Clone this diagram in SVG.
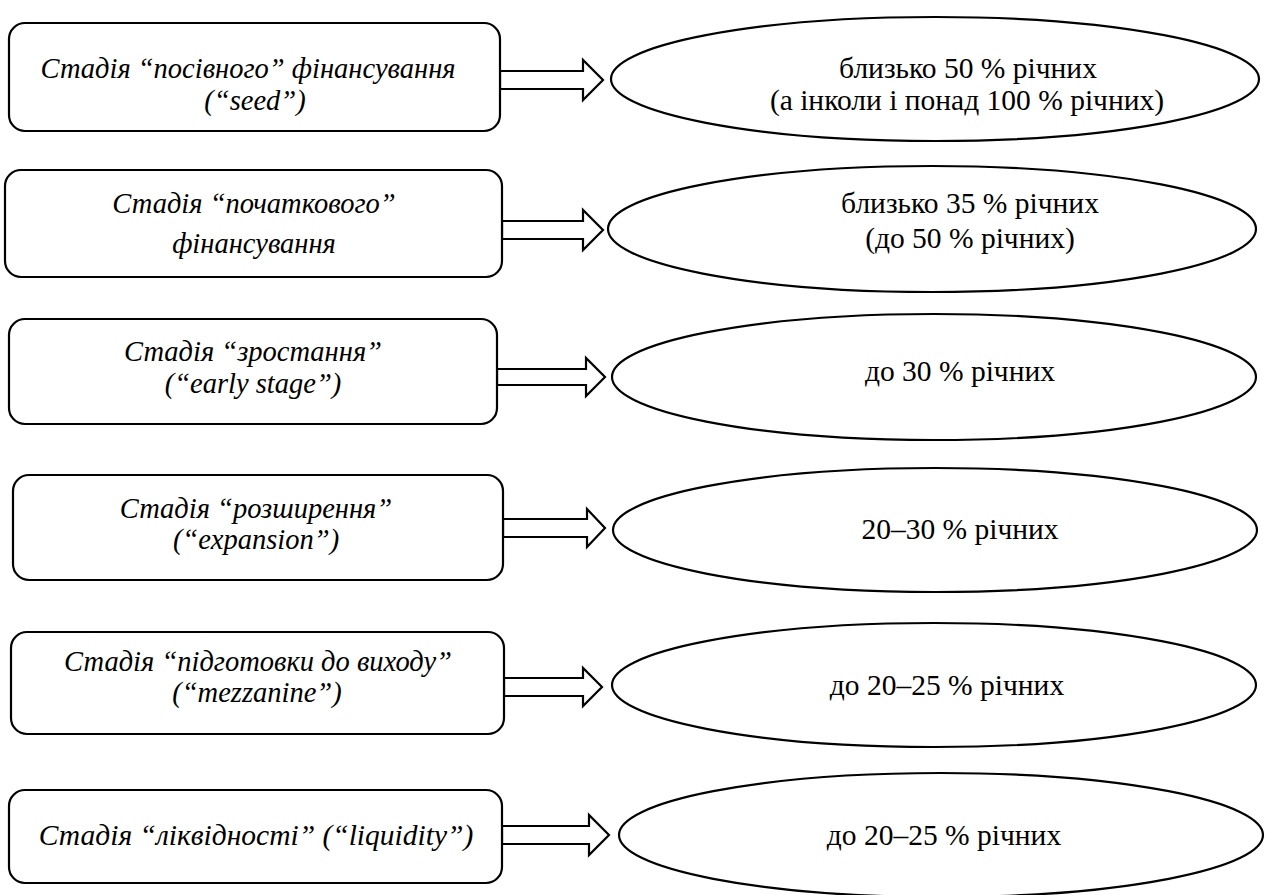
<svg xmlns="http://www.w3.org/2000/svg" width="1266" height="895" viewBox="0 0 1266 895">
<style>
.box{fill:#fff;stroke:#000;stroke-width:2.2}
.ell{fill:#fff;stroke:#000;stroke-width:2.2}
.arr{fill:#fff;stroke:#000;stroke-width:2.2;stroke-linejoin:miter}
text{font-family:'Liberation Serif','Times New Roman',serif;font-size:29.5px;text-anchor:middle;fill:#000}
.bt{font-style:italic;font-size:28.5px}
.bt6{font-size:29.5px}
</style>
<rect width="1266" height="895" fill="#fff"/>
<g id="connectors">
<polygon class="arr" points="500,71 583,71 583,60 603,80 583,100 583,89 500,89"/>
<polygon class="arr" points="502,221 583,221 583,210 603,230 583,250 583,239 502,239"/>
<polygon class="arr" points="497,369 586,369 586,358 605,377 586,396 586,385 497,385"/>
<polygon class="arr" points="503,519 587,519 587,509 605,528 587,547 587,537 503,537"/>
<polygon class="arr" points="504,678 583,678 583,668 602,687 583,706 583,696 504,696"/>
<polygon class="arr" points="502,826 589,826 589,815 609,835 589,855 589,844 502,844"/>
</g>
<g id="stage1">
<rect class="box" x="9" y="23" width="491" height="108" rx="16"/>
<text class="bt" x="248" y="78">Стадія “посівного” фінансування</text>
<text class="bt" x="255" y="110">(“seed”)</text>
</g>
<g id="rate1">
<ellipse class="ell" cx="935" cy="79" rx="324" ry="62"/>
<text x="968" y="78">близько 50 % річних</text>
<text x="967" y="110">(а інколи і понад 100 % річних)</text>
</g>
<g id="stage2">
<rect class="box" x="5" y="170" width="497" height="107" rx="16"/>
<text class="bt" x="254" y="213">Стадія “початкового”</text>
<text class="bt" x="254" y="253">фінансування</text>
</g>
<g id="rate2">
<ellipse class="ell" cx="932" cy="229" rx="324" ry="63"/>
<text x="970" y="213">близько 35 % річних</text>
<text x="970" y="248">(до 50 % річних)</text>
</g>
<g id="stage3">
<rect class="box" x="9" y="319" width="488" height="105" rx="16"/>
<text class="bt" x="253" y="361">Стадія “зростання”</text>
<text class="bt" x="253" y="393">(“early stage”)</text>
</g>
<g id="rate3">
<ellipse class="ell" cx="934" cy="377" rx="322" ry="63"/>
<text x="960" y="381">до 30 % річних</text>
</g>
<g id="stage4">
<rect class="box" x="13" y="475" width="490" height="105" rx="16"/>
<text class="bt" x="256" y="518">Стадія “розширення”</text>
<text class="bt" x="256" y="549">(“expansion”)</text>
</g>
<g id="rate4">
<ellipse class="ell" cx="935" cy="530" rx="322" ry="62"/>
<text x="960" y="539">20–30 % річних</text>
</g>
<g id="stage5">
<rect class="box" x="11" y="632" width="493" height="102" rx="16"/>
<text class="bt" x="258" y="671">Стадія “підготовки до виходу”</text>
<text class="bt" x="257" y="702">(“mezzanine”)</text>
</g>
<g id="rate5">
<ellipse class="ell" cx="934" cy="685" rx="322" ry="62"/>
<text x="947" y="695">до 20–25 % річних</text>
</g>
<g id="stage6">
<rect class="box" x="9" y="790" width="493" height="93" rx="16"/>
<text class="bt bt6" x="256" y="845">Стадія “ліквідності” (“liquidity”)</text>
</g>
<g id="rate6">
<ellipse class="ell" cx="941" cy="835" rx="322" ry="62"/>
<text x="944" y="845">до 20–25 % річних</text>
</g>
</svg>
